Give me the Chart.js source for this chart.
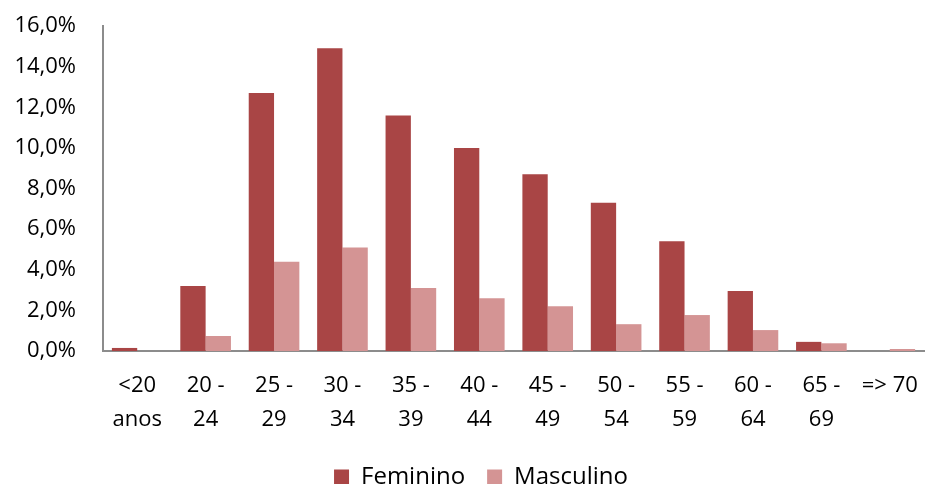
<!DOCTYPE html>
<html>
<head>
<meta charset="utf-8">
<script src="https://cdn.jsdelivr.net/npm/chart.js@4/dist/chart.umd.min.js"></script>
<style>
  html, body { margin: 0; padding: 0; background: #fff; }
  #wrap { width: 925px; height: 484px; }
</style>
</head>
<body>
<div id="wrap"><canvas id="ageChart"></canvas></div>
<script>
// Age groups (x axis, two lines each)
const ageGroups = [
    ['<20', 'anos'], ['20 -', '24'], ['25 -', '29'], ['30 -', '34'],
    ['35 -', '39'], ['40 -', '44'], ['45 -', '49'], ['50 -', '54'],
    ['55 -', '59'], ['60 -', '64'], ['65 -', '69'], '=> 70'
];

// Share of each group, in percent
const feminino  = [0.15, 3.2, 12.7, 14.9, 11.6, 10.0, 8.7, 7.3, 5.4, 2.95, 0.45, 0.0];
const masculino = [0.0, 0.74, 4.4, 5.1, 3.1, 2.6, 2.2, 1.32, 1.77, 1.03, 0.38, 0.1];

const yTicks = [0, 2, 4, 6, 8, 10, 12, 14, 16];

const ctx = document.getElementById('ageChart').getContext('2d');

// the original legend sits a bit right of centre
const legendShift = {
    id: 'legendShift',
    afterLayout(chart) {
        chart.legend.left += 14;
        chart.legend.right += 14;
    }
};

new Chart(ctx, {
    type: 'bar',
    data: {
        labels: ageGroups,
        datasets: [
            { label: 'Feminino', data: feminino, backgroundColor: '#A94545' },
            { label: 'Masculino', data: masculino, backgroundColor: '#D49494' }
        ]
    },
    options: {
        responsive: true,
        maintainAspectRatio: false,
        animation: false,
        datasets: { bar: { categoryPercentage: 0.74, barPercentage: 1.0 } },
        layout: { padding: { left: 10, right: 1, top: 26, bottom: -15 } },
        plugins: {
            legend: {
                position: 'bottom',
                labels: {
                    color: '#000',
                    font: { family: 'Open Sans', size: 24 },
                    boxWidth: 15,
                    boxHeight: 15,
                    padding: 22
                }
            },
            tooltip: { enabled: false }
        },
        scales: {
            x: {
                grid: { display: false, drawTicks: false },
                border: { color: '#8c8c8c', width: 2 },
                afterFit: axis => {
                    axis.height = 92;
                    axis.paddingLeft = 0;
                    axis.paddingRight = 0;
                },
                ticks: {
                    color: '#000',
                    font: { family: 'Open Sans', size: 22, lineHeight: 1.58 },
                    maxRotation: 0,
                    autoSkip: false,
                    padding: 17
                }
            },
            y: {
                min: 0,
                max: 16,
                afterBuildTicks: axis => { axis.ticks = yTicks.map(v => ({ value: v })); },
                afterFit: axis => {
                    axis.width = 93;
                    axis.paddingTop = 0;
                    axis.paddingBottom = 0;
                },
                grid: { display: false, drawTicks: false },
                border: { color: '#8c8c8c', width: 2 },
                ticks: {
                    color: '#000',
                    font: { family: 'Open Sans', size: 22 },
                    padding: 27,
                    callback: v => v.toFixed(1).replace('.', ',') + '%'
                }
            }
        }
    },
    plugins: [legendShift]
});
</script>
</body>
</html>
